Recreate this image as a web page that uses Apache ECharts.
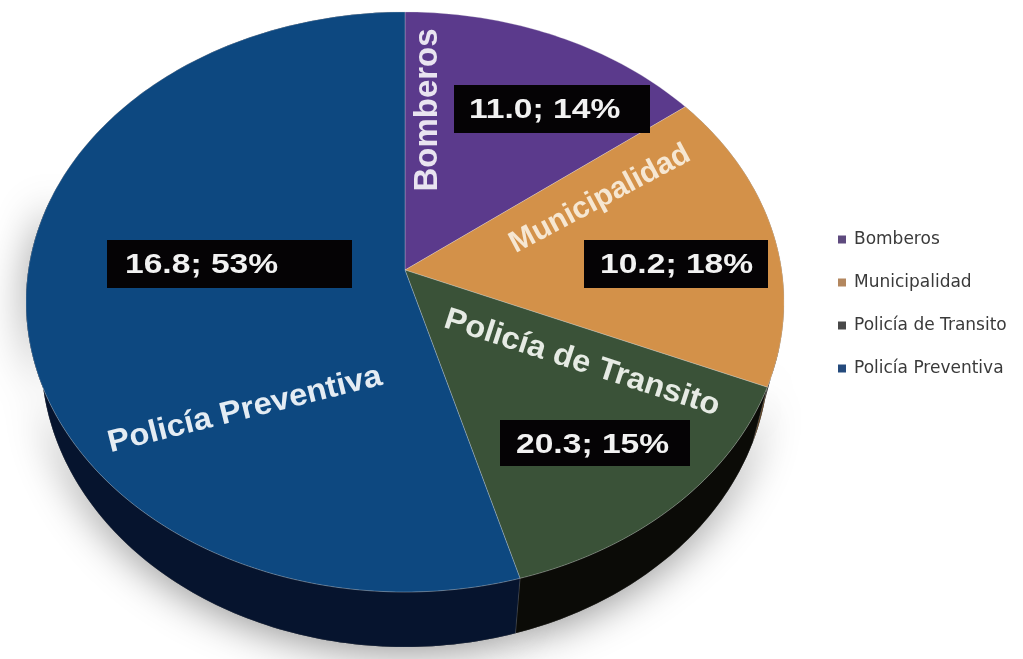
<!DOCTYPE html>
<html><head><meta charset="utf-8">
<style>html,body{margin:0;padding:0;background:#fff}#c{width:1023px;height:659px}</style>
<script src="https://cdn.jsdelivr.net/npm/echarts@6/dist/echarts.min.js"></script>
</head><body><div id="c"></div>
<script>
const categories = ['Bomberos','Municipalidad','Policía de Transito','Policía Preventiva'];
// printed in the labels
const percents = [14,18,15,53];
const amounts = ['11.0','10.2','20.3','16.8'];
// slice shares as actually drawn in the picture
const drawnShares = [14.6,16.8,14.2,54.4];
const faceColors = ['#5b3a8c','#d39149','#3a5238','#0d4880'];
const wallColors = ['#2a1a44','#5a3c1c','#0b0b07','#06142e'];
const legendColors = ['#5e4a7e','#b3875f','#484848','#244a7c'];

// label placement: [box x, y, w, h, text x, text y] and [cx, cy, rotation deg, size, scaleX, colour]
const boxes = [[454,85,196,48,469,110],[584,240,184,48,600,265],[500,420,190,46,516,445],[107,240,245,48,125,265]];
const names = [[428,110,90,33,1,'#e9e4f0'],[600,199,28,30,1,'#f6e7d2'],[582,363,-18,31,1.05,'#e6ebe4'],[245,410,14,31,1.06,'#e4ecf3']];

// projection of the tilted disc
const CX=405, K=376.7, A=256.7, B=270, C=-0.1103, DEPTH=55, SHRINK=0.96;
function pt(deg){ const t=deg*Math.PI/180,u=-Math.cos(t),v=Math.sin(t),d=1+C*u;
  return [CX+K*v/d,(A*u+B)/d]; }
function wallPt(deg){ const p=pt(deg); return [CX+(p[0]-CX)*SHRINK,p[1]+DEPTH]; }
function arc(a0,a1,fn){ const r=[],n=Math.max(2,Math.ceil(Math.abs(a1-a0)));
  for(let i=0;i<=n;i++) r.push(fn(a0+(a1-a0)*i/n)); return r; }

const total = drawnShares.reduce((s,v)=>s+v,0);
function startOf(i){ let s=0; for(let j=0;j<i;j++) s+=drawnShares[j]; return s/total*360; }

function render(params,api){
  const i=params.seriesIndex, a0=startOf(i), a1=a0+api.value(0)/total*360;
  const top=[[CX,B]].concat(arc(a0,a1,pt));
  const wall=arc(a0,a1,pt).concat(arc(a1,a0,wallPt));
  const b=boxes[i], n=names[i];
  const children=[];
  if(i>0){
    const s0=Math.max(a0,105), s1=Math.min(a1,285);
    if(s1>s0) children.push({type:'polygon',z2:0,shape:{points:arc(s0,s1,pt).concat(arc(s1,s0,wallPt))},style:{fill:'#222',shadowBlur:40,shadowColor:'rgba(0,0,0,0.42)',shadowOffsetY:6}});
    children.push({type:'polygon',z2:1,shape:{points:wall},style:{fill:wallColors[i],stroke:'rgba(200,200,200,0.25)',lineWidth:0.6}});
  }
  children.push({type:'polygon',z2:5,shape:{points:top},style:{fill:api.visual('color'),stroke:'rgba(225,225,225,0.4)',lineWidth:0.7}});
  children.push({type:'rect',z2:8,shape:{x:b[0],y:b[1],width:b[2],height:b[3]},style:{fill:'#050305'}});
  children.push({type:'text',z2:9,x:b[4],y:b[5],scaleX:1.2,style:{text:amounts[i]+'; '+percents[i]+'%',fill:'#f2f2f2',textAlign:'left',textVerticalAlign:'middle',font:'bold 28px "Liberation Sans"'}});
  children.push({type:'text',z2:9,x:n[0],y:n[1],rotation:n[2]*Math.PI/180,scaleX:n[4],style:{text:categories[i],fill:n[5],textAlign:'center',textVerticalAlign:'middle',font:'bold '+n[3]+'px "Liberation Sans"'}});
  return {type:'group',children};
}

const chart=echarts.init(document.getElementById('c'),null,{renderer:'canvas'});
chart.setOption({
  animation:false,
  legend:{orient:'vertical',left:833,top:226,itemWidth:8,itemHeight:8,itemGap:26,icon:'rect',
    textStyle:{fontFamily:'DejaVu Sans',fontSize:17,color:'#3a3a3a',padding:[0,0,0,3]},
    data:categories.map((c,i)=>({name:c,itemStyle:{color:legendColors[i]}}))},
  series:categories.map((c,i)=>({type:'custom',name:c,coordinateSystem:'none',renderItem:render,
    itemStyle:{color:faceColors[i]},data:[[drawnShares[i]]]}))
});
</script></body></html>
